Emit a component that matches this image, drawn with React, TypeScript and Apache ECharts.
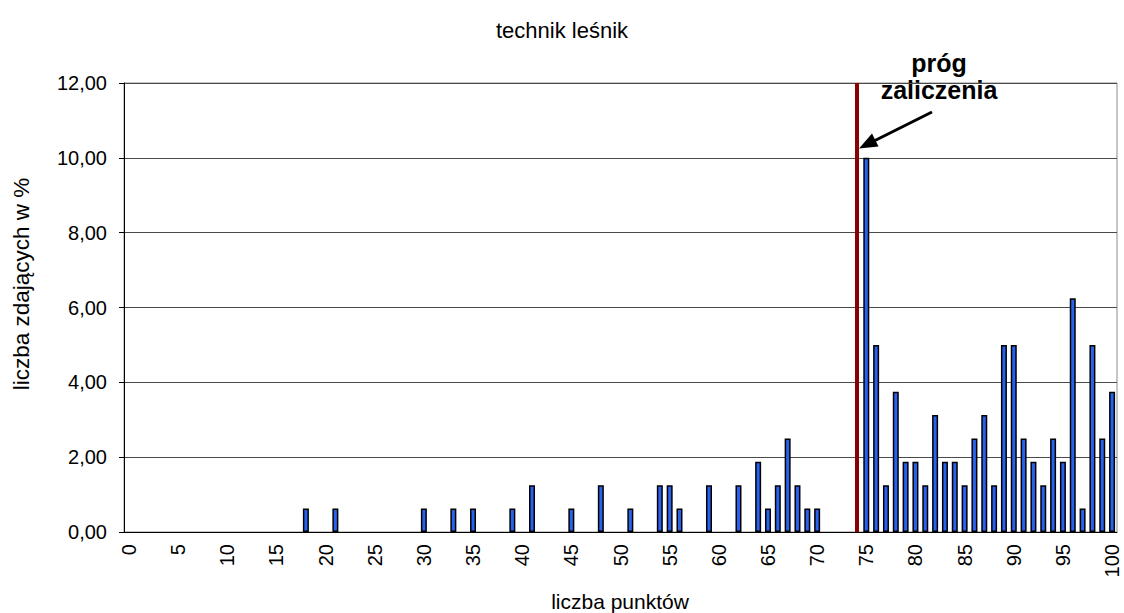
import React, { useEffect, useRef } from "react";
import * as echarts from "echarts";

const titleText = "technik leśnik";
const xAxisName = "liczba punktów";
const yAxisName = "liczba zdających w %";
const thresholdLabel = "próg\nzaliczenia";
const thresholdCategory = "74";

const categories: string[] = Array.from({ length: 101 }, (_, i) => String(i));

const scoredPoints = [
  18, 21, 30, 33, 35, 39, 41, 45, 48, 51, 54, 55, 56, 59, 62, 64, 65, 66, 67, 68, 69, 70,
  75, 76, 77, 78, 79, 80, 81, 82, 83, 84, 85, 86, 87, 88, 89, 90, 91, 92, 93, 94, 95, 96, 97, 98, 99, 100,
];
const shares = [
  0.625, 0.625, 0.625, 0.625, 0.625, 0.625, 1.25, 0.625, 1.25, 0.625, 1.25, 1.25, 0.625, 1.25, 1.25, 1.875, 0.625, 1.25, 2.5, 1.25, 0.625, 0.625,
  10, 5, 1.25, 3.75, 1.875, 1.875, 1.25, 3.125, 1.875, 1.875, 1.25, 2.5, 3.125, 1.25, 5, 5, 2.5, 1.875, 1.25, 2.5, 1.875, 6.25, 0.625, 5, 2.5, 3.75,
];

const FONT = "'Liberation Sans', Arial, sans-serif";

export default function App() {
  const ref = useRef<HTMLDivElement>(null);
  useEffect(() => {
    if (!ref.current) return;
    const chart = echarts.init(ref.current, null, { renderer: "svg" });
    const data: (number | string)[] = categories.map(() => "-");
    scoredPoints.forEach((p, i) => {
      data[p] = shares[i];
    });
    chart.setOption({
      animation: false,
      backgroundColor: "#ffffff",
      textStyle: { fontFamily: FONT },
      grid: {
        left: 124,
        right: 7,
        top: 83,
        bottom: 81,
        show: true,
        borderColor: "#8c8c8c",
        borderWidth: 1,
      },
      xAxis: {
        type: "category",
        data: categories,
        axisLine: { lineStyle: { color: "#000", width: 1 } },
        axisTick: { interval: 0, length: 5, lineStyle: { color: "#000" } },
        axisLabel: {
          interval: 4,
          rotate: 90,
          margin: 12,
          color: "#000",
          fontSize: 20,
          fontFamily: FONT,
        },
        splitLine: { show: false },
      },
      yAxis: {
        type: "value",
        min: 0,
        max: 12,
        interval: 2,
        axisLine: { show: true, lineStyle: { color: "#000", width: 1 } },
        axisTick: { show: true, length: 5, lineStyle: { color: "#000" } },
        axisLabel: {
          color: "#000",
          fontSize: 20,
          margin: 17,
          fontFamily: FONT,
          formatter: (v: number) => v.toFixed(2).replace(".", ","),
        },
        splitLine: { lineStyle: { color: "#4a4a4a", width: 1 } },
      },
      series: [
        {
          type: "bar",
          data,
          barWidth: 6,
          itemStyle: { color: "#2a62f0", borderColor: "#000", borderWidth: 1.5 },
          markLine: {
            silent: true,
            symbol: ["none", "none"],
            label: { show: false },
            lineStyle: { color: "#8b0000", width: 4, type: "solid" },
            data: [{ xAxis: thresholdCategory }],
          },
        },
      ],
      graphic: [
        {
          type: "text",
          left: "center",
          top: 19,
          style: { text: titleText, fontSize: 22, fontFamily: FONT, fill: "#000" },
        },
        {
          type: "text",
          x: 620,
          y: 601,
          style: {
            text: xAxisName,
            fontSize: 21,
            fontFamily: FONT,
            fill: "#000",
            align: "center",
            verticalAlign: "middle",
          },
        },
        {
          type: "text",
          x: 21,
          y: 284,
          rotation: Math.PI / 2,
          style: {
            text: yAxisName,
            fontSize: 22.5,
            fontFamily: FONT,
            fill: "#000",
            align: "center",
            verticalAlign: "middle",
          },
        },
        {
          type: "text",
          x: 939,
          y: 76,
          style: {
            text: thresholdLabel,
            fontSize: 25,
            fontWeight: "bold",
            lineHeight: 27,
            fontFamily: FONT,
            fill: "#000",
            align: "center",
            verticalAlign: "middle",
          },
        },
        {
          type: "line",
          shape: { x1: 932, y1: 112, x2: 872, y2: 142 },
          style: { stroke: "#000", lineWidth: 3 },
        },
        {
          type: "polygon",
          shape: { points: [[859, 148.5], [878.5, 146.5], [872, 133.5]] },
          style: { fill: "#000" },
        },
      ],
    });
    return () => chart.dispose();
  }, []);
  return (
    <div
      ref={ref}
      style={{ position: "fixed", left: 0, top: 0, width: 1124, height: 613 }}
    />
  );
}
